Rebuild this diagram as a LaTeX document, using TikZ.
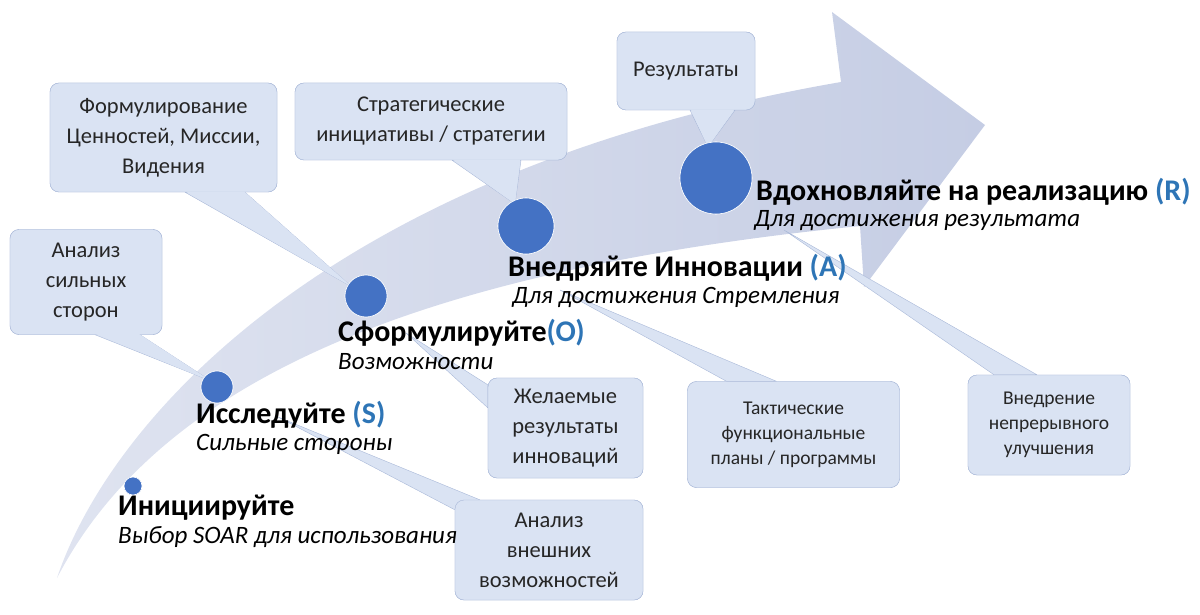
\documentclass[tikz,border=0pt]{standalone}
\usepackage{fontspec}
\setmainfont{Carlito}
\usetikzlibrary{calc}
\definecolor{arrowc}{HTML}{C5CDE4}
\definecolor{boxfill}{HTML}{DAE3F3}
\definecolor{boxline}{HTML}{A9B8D8}
\definecolor{dotc}{HTML}{4472C4}
\definecolor{letc}{HTML}{2E75B6}
\definecolor{txt}{HTML}{262626}
\tikzset{
  box/.style={draw=boxline,fill=boxfill,rounded corners=9pt,align=center,text=txt,font=\fontsize{22.5}{30}\selectfont,inner sep=2pt},
  smallbox/.style={box,font=\fontsize{19.5}{25}\selectfont},
  tailc/.style={draw=boxline,fill=boxfill,line join=round},
  dot/.style={circle,fill=dotc,draw=white,line width=0.6pt,inner sep=0pt},
  head/.style={anchor=west,font=\fontsize{30}{32}\selectfont\bfseries,inner sep=0pt},
  sub/.style={anchor=west,font=\fontsize{25}{28}\selectfont\itshape,inner sep=0pt}
}
\begin{document}
\begin{tikzpicture}[x=1pt,y=-1pt]
\useasboundingbox (0,0) rectangle (1200,615);
% big arrow
\shade[left color=arrowc!55,right color=arrowc] (57,578) .. controls (110,420) and (330,170) .. (841,82) -- (832,12) -- (985,125) -- (864,287) -- (860,226) .. controls (420,270) and (160,380) .. (57,578) -- cycle;
% circles
\node[dot,minimum size=18pt] (I) at (133,486) {};
\node[dot,minimum size=32pt] (S) at (217,387) {};
\node[dot,minimum size=42pt] (O) at (366,296) {};
\node[dot,minimum size=56pt] (A) at (526,226) {};
\node[dot,minimum size=72pt] (R) at (716,178) {};
\coordinate (t5) at (406,333);
\coordinate (t6) at (278,417);
\coordinate (t7) at (560,290);
\coordinate (t8) at (784,230);
% boxes (nodes first, for anchors)
\path
 node[box,minimum width=152pt,minimum height=105pt] (b1) at (86,282) {Анализ\\сильных\\сторон}
 node[box,minimum width=227pt,minimum height=109pt] (b2) at (163.5,137.5) {Формулирование\\Ценностей, Миссии,\\Видения}
 node[box,minimum width=272pt,minimum height=77pt] (b3) at (431,121.5) {Стратегические\\инициативы / стратегии}
 node[box,minimum width=138pt,minimum height=78pt] (b4) at (686,71) {Результаты}
 node[box,minimum width=155pt,minimum height=100pt] (b5) at (565.5,428) {Желаемые\\результаты\\инноваций}
 node[box,minimum width=188pt,minimum height=100pt] (b6) at (549,550) {Анализ\\внешних\\возможностей}
 node[smallbox,minimum width=212pt,minimum height=106pt] (b7) at (793.5,434.5) {Тактические\\функциональные\\планы / программы}
 node[smallbox,minimum width=162pt,minimum height=100pt] (b8) at (1049,425) {Внедрение\\непрерывного\\улучшения};
% tails
\filldraw[tailc] ([xshift=9]b1.south) -- ([xshift=-6,yshift=6]S.center) -- ([xshift=54]b1.south) -- cycle;
\filldraw[tailc] ([xshift=21.5]b2.south) -- ([xshift=-14,yshift=9]O.center) -- ([xshift=81.5]b2.south) -- cycle;
\filldraw[tailc] ([xshift=21]b3.south) -- ([xshift=-11,yshift=22]A.center) -- ([xshift=90]b3.south) -- cycle;
\filldraw[tailc] ([xshift=4]b4.south) -- ([xshift=-8,yshift=31]R.center) -- ([xshift=49]b4.south) -- cycle;
\filldraw[tailc] ([yshift=-7]b5.north west) -- (t5) -- ([yshift=-30]b5.north west) -- cycle;
\filldraw[tailc] ([yshift=-10]b6.north west) -- (t6) -- ([xshift=25]b6.north west) -- cycle;
\filldraw[tailc] ([xshift=-67]b7.north) -- (t7) -- ([xshift=-17]b7.north) -- cycle;
\filldraw[tailc] ([xshift=-55]b8.north) -- (t8) -- ([xshift=-12]b8.north) -- cycle;
% boxes again on top of tails
\path
 node[box,minimum width=152pt,minimum height=105pt] at (86,282) {Анализ\\сильных\\сторон}
 node[box,minimum width=227pt,minimum height=109pt] at (163.5,137.5) {Формулирование\\Ценностей, Миссии,\\Видения}
 node[box,minimum width=272pt,minimum height=77pt] at (431,121.5) {Стратегические\\инициативы / стратегии}
 node[box,minimum width=138pt,minimum height=78pt] at (686,71) {Результаты}
 node[box,minimum width=155pt,minimum height=100pt] at (565.5,428) {Желаемые\\результаты\\инноваций}
 node[box,minimum width=188pt,minimum height=100pt] at (549,550) {Анализ\\внешних\\возможностей}
 node[smallbox,minimum width=212pt,minimum height=106pt] at (793.5,434.5) {Тактические\\функциональные\\планы / программы}
 node[smallbox,minimum width=162pt,minimum height=100pt] at (1049,425) {Внедрение\\непрерывного\\улучшения};
% hide the joins between tails and boxes
\fill[boxfill] ([xshift=9.8,yshift=0.6]b1.south) -- ([xshift=-6,yshift=6]S.center) -- ([xshift=53.2,yshift=0.6]b1.south) -- cycle;
\fill[boxfill] ([xshift=22.3,yshift=0.6]b2.south) -- ([xshift=-14,yshift=9]O.center) -- ([xshift=80.7,yshift=0.6]b2.south) -- cycle;
\fill[boxfill] ([xshift=21.8,yshift=0.6]b3.south) -- ([xshift=-11,yshift=22]A.center) -- ([xshift=89.2,yshift=0.6]b3.south) -- cycle;
\fill[boxfill] ([xshift=4.8,yshift=0.6]b4.south) -- ([xshift=-8,yshift=31]R.center) -- ([xshift=48.2,yshift=0.6]b4.south) -- cycle;
% circles on top
\node[dot,minimum size=18pt] at (I) {};
\node[dot,minimum size=32pt] at (S) {};
\node[dot,minimum size=42pt] at (O) {};
\node[dot,minimum size=56pt] at (A) {};
\node[dot,minimum size=72pt] at (R) {};
% stage texts
\node[head] (h1) at (118,508) {Инициируйте};
\node[sub] (s1) at (118,537) {Выбор SOAR для использования};
\node[head] (h2) at (196,415) {Исследуйте \textcolor{letc}{(S)}};
\node[sub] (s2) at (196,444) {Сильные стороны};
\node[head] (h3) at (338,333) {Сформулируйте\textcolor{letc}{(O)}};
\node[sub] (s3) at (338,362) {Возможности};
\node[head] (h4) at (508,268) {Внедряйте Инновации \textcolor{letc}{(A)}};
\node[sub] (s4) at (512,297) {Для достижения Стремления};
\node[head] (h5) at (756,192) {Вдохновляйте на реализацию \textcolor{letc}{(R)}};
\node[sub] (s5) at (754,221) {Для достижения результата};
\end{tikzpicture}
\end{document}
